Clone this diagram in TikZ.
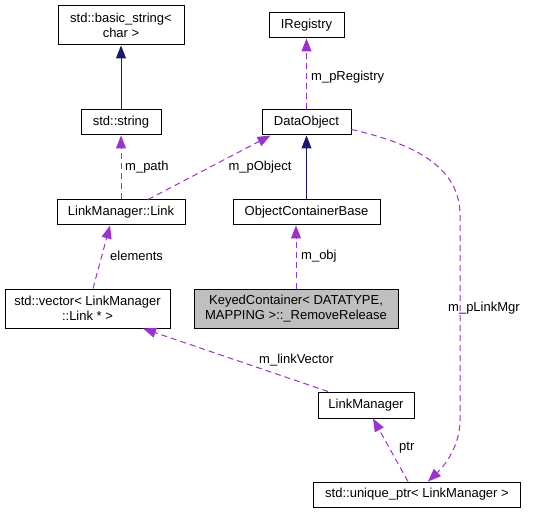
\documentclass[tikz,border=0pt]{standalone}
\usepackage{fontspec}
\setmainfont{Liberation Sans}
\usetikzlibrary{arrows.meta}
\definecolor{navyedge}{HTML}{191970}
\definecolor{purpedge}{HTML}{9A32CD}
\definecolor{kcfill}{HTML}{BFBFBF}
\begin{document}
\begin{tikzpicture}[x=1pt,y=-1pt,
  box/.style={draw=black,line width=1pt,rectangle,inner sep=0pt,align=center,
    font=\fontsize{13}{15}\selectfont,fill=white},
  inherit/.style={draw=navyedge,line width=1pt,-{Triangle[length=13pt,width=10pt]}},
  usage/.style={draw=purpedge,line width=1pt,dash pattern=on 6pt off 4pt,
    -{Triangle[length=13pt,width=10pt]}},
  lbl/.style={font=\fontsize{13}{15}\selectfont,inner sep=0pt}]
\useasboundingbox (0,0) rectangle (541,513);
\node[box,minimum width=126pt,minimum height=39pt] (bs) at (121,25.5) {std::basic\_string<\\char >};
\node[box,minimum width=80pt,minimum height=25pt] (str) at (121,122.5) {std::string};
\node[box,minimum width=128pt,minimum height=25pt] (link) at (121,212.5) {LinkManager::Link};
\node[box,minimum width=75pt,minimum height=25pt] (ireg) at (306.5,25.5) {IRegistry};
\node[box,minimum width=89pt,minimum height=25pt] (dobj) at (306.5,122.5) {DataObject};
\node[box,minimum width=147pt,minimum height=25pt] (ocb) at (306.5,212.5) {ObjectContainerBase};
\node[box,minimum width=165pt,minimum height=39pt] (vec) at (87.5,308.5) {std::vector< LinkManager\\::Link * >};
\node[box,fill=kcfill,minimum width=204pt,minimum height=39pt] (kc) at (296,308.5) {KeyedContainer< DATATYPE,\\ MAPPING >::\_RemoveRelease};
\node[box,minimum width=96pt,minimum height=26pt] (lm) at (366,405) {LinkManager};
\node[box,minimum width=207pt,minimum height=25pt] (up) at (417,494.5) {std::unique\_ptr< LinkManager >};

\draw[inherit] (str.north) -- (bs.south);
\draw[inherit] (ocb.north) -- (dobj.south);
\draw[usage] (link.north) -- (str.south);
\node[lbl,anchor=west] (lpath) at (125,167) {m\_path};
\draw[usage] ([xshift=27pt]link.north) -- ([xshift=-36pt]dobj.south);
\node[lbl] (lpobj) at (260,167) {m\_pObject};
\draw[usage] (dobj.north) -- (ireg.south);
\node[lbl,anchor=west] (lpreg) at (311,77) {m\_pRegistry};
\draw[usage] (kc.north) -- ([xshift=-10.5pt]ocb.south);
\node[lbl,anchor=west] (lobj) at (301,256) {m\_obj};
\draw[usage] ([xshift=5.5pt]vec.north) -- ([xshift=-11pt]link.south);
\node[lbl,anchor=west] (lelem) at (110,256) {elements};
\draw[usage] ([xshift=-38pt]lm.north) -- ([xshift=55.5pt]vec.south);
\node[lbl,anchor=west] (llv) at (259,360) {m\_linkVector};
\draw[usage] ([xshift=-9pt]up.north) -- ([xshift=7pt]lm.south);
\node[lbl,anchor=west] (lptr) at (399,448) {ptr};
\draw[usage] ([yshift=-7pt]dobj.east) .. controls (420,145) and (460,170) .. (460,215) -- (460,420) .. controls (460,450) and (440,470) .. ([xshift=11pt]up.north);
\node[lbl,anchor=west] (llm) at (448,308) {m\_pLinkMgr};
\end{tikzpicture}
\end{document}
